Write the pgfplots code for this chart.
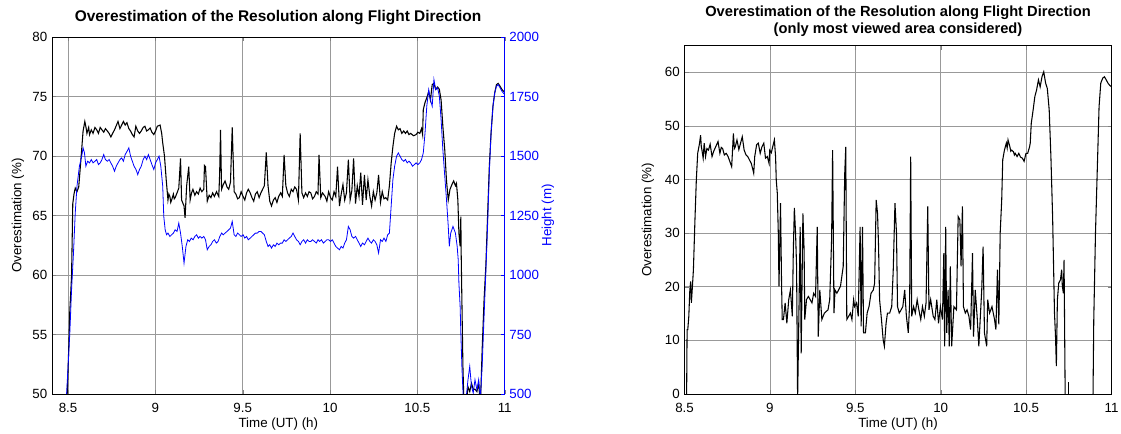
\documentclass[border=0pt]{standalone}
\usepackage{fontspec}
\setmainfont{Liberation Sans}
\usepackage{pgfplots}
\pgfplotsset{compat=1.18}

\pgfplotsset{
  mat/.style={
    scale only axis,
    tick align=inside,
    major tick length=3pt,
    grid=major,
    grid style={black!40, line width=0.5pt},
    tick label style={font=\fontsize{10}{12}\selectfont},
    label style={font=\fontsize{10}{12}\selectfont},
    /pgf/number format/assume math mode=true,
    /pgf/number format/1000 sep={},
    scaled ticks=false,
    xtick={8.5,9,9.5,10,10.5,11},
    xticklabel style={yshift=-3.5pt},
    axis line style={line width=0.6pt},
    unbounded coords=jump,
  }
}

\begin{document}
\begin{tikzpicture}
\path[use as bounding box] (0,0) rectangle (840.75pt,325.5pt);

% left: overestimation and flight height
\begin{axis}[mat,
  at={(39pt,30pt)}, anchor=south west,
  width=339.5pt, height=267.75pt,
  xmin=8.408, xmax=11, ymin=50, ymax=80,
  ytick={50,55,...,80},
  axis x line=box, axis y line*=left,
  xlabel={Time (UT) (h)}, ylabel={Overestimation (\%)},
  xlabel style={at={(axis description cs:0.5,-0.084)}, anchor=center},
  ylabel style={at={(axis description cs:-0.0751,0.5)}, anchor=center},
]
\addplot[black, line width=0.8pt] coordinates {
(8.490,48) (8.500,52) (8.510,57) (8.520,59.9) (8.527,66.0) (8.534,66.8) (8.541,67.3) (8.551,67.0) (8.561,67.4)
(8.572,69.4) (8.586,72.1) (8.596,72.9) (8.604,72.3) (8.608,71.9) (8.612,72.1) (8.618,72.4) (8.623,71.8) (8.633,72.2) (8.643,71.9)
(8.654,72.4) (8.664,72.2) (8.674,71.9) (8.684,72.4) (8.694,72.2) (8.704,72.0) (8.714,72.3) (8.725,72.1) (8.735,71.9) (8.745,71.6) (8.755,71.9) (8.766,72.2) (8.786,72.9) (8.797,72.3)
(8.807,72.6) (8.817,72.9) (8.827,72.6) (8.837,72.8) (8.848,72.3) (8.858,72.1) (8.868,71.8) (8.878,71.6) (8.888,72.5) (8.899,72.1)
(8.909,71.9) (8.919,72.1) (8.930,72.4) (8.940,72.5) (8.950,72.1) (8.960,72.2) (8.970,72.35) (8.980,72.0) (8.991,71.8) (9.001,72.1) (9.011,72.5) (9.027,72.6)
(9.036,71.9) (9.042,71.1) (9.052,70.0) (9.062,68.0) (9.072,66.3) (9.077,66.8) (9.083,66.6) (9.088,66.1) (9.093,66.3) (9.103,66.8)
(9.108,66.4) (9.113,66.5) (9.124,66.9) (9.134,67.3) (9.144,69.8) (9.150,66.3) (9.164,65.8) (9.170,64.8) (9.179,67.5)
(9.191,69.1) (9.199,66.3) (9.207,66.9) (9.215,67.2) (9.226,66.7) (9.236,67.0) (9.246,66.8) (9.256,67.3) (9.266,67.0) (9.277,67.2) (9.281,69.2)
(9.287,69.1) (9.297,66.2) (9.308,66.7) (9.318,66.5) (9.328,66.9) (9.338,66.6) (9.350,67.0) (9.363,66.6) (9.368,68.5) (9.373,72.2) (9.379,67.2) (9.389,67.6) (9.399,67.9)
(9.410,67.4) (9.420,67.2) (9.430,67.8) (9.440,72.4) (9.451,67.0) (9.461,66.8) (9.471,66.4) (9.481,66.5) (9.491,67.0) (9.502,66.6) (9.512,66.3) (9.522,66.9) (9.532,67.2) (9.543,66.9)
(9.553,66.5) (9.563,66.2) (9.573,66.8) (9.583,67.0) (9.594,66.5) (9.604,66.9) (9.614,67.2) (9.624,67.5) (9.635,70.3) (9.645,67.5) (9.655,66.2) (9.665,65.8)
(9.676,66.3) (9.686,66.5) (9.696,66.1) (9.706,66.6) (9.717,66.9) (9.727,66.6) (9.737,70.1) (9.747,67.5) (9.757,66.9) (9.767,66.6) (9.778,67.2) (9.788,67.0) (9.798,67.4) (9.808,67.2)
(9.819,66.3) (9.829,71.9) (9.839,66.9) (9.849,66.5) (9.860,66.9) (9.870,66.6) (9.880,67.0) (9.890,66.9) (9.900,66.4) (9.911,66.6) (9.921,67.0) (9.931,66.8) (9.937,70.1)
(9.947,66.5) (9.957,66.9) (9.972,66.6) (9.982,66.2) (9.992,67.0) (10.003,66.5) (10.013,66.3) (10.023,67.0) (10.033,66.6) (10.043,69.1) (10.054,65.8) (10.064,66.8) (10.074,67.6)
(10.084,66.3) (10.094,66.9) (10.105,69.7) (10.115,66.3) (10.125,67.1) (10.135,69.8) (10.146,66.0) (10.156,67.5) (10.166,66.6) (10.176,68.6) (10.186,65.9)
(10.197,68.4) (10.207,66.3) (10.217,68.0) (10.228,66.6) (10.238,65.8) (10.248,67.0) (10.258,66.3) (10.268,66.9) (10.278,68.4) (10.289,66.1) (10.299,67.0)
(10.309,66.4) (10.319,66.5) (10.330,66.3) (10.340,67.5) (10.350,69.4) (10.360,70.8) (10.370,71.9) (10.381,72.5) (10.391,72.2) (10.401,72.3)
(10.411,71.9) (10.422,72.1) (10.432,71.9) (10.442,72.1) (10.452,71.8) (10.462,71.9) (10.478,71.7) (10.493,71.8) (10.503,72.0) (10.514,71.9) (10.524,72.3) (10.530,71.8) (10.534,73.9)
(10.544,74.5) (10.554,74.9) (10.565,75.4) (10.575,74.7) (10.585,76.0) (10.595,76.1) (10.605,75.6) (10.616,75.8)
(10.626,75.6) (10.636,74.7) (10.646,72.5) (10.657,70.5) (10.667,67.9) (10.677,66.3) (10.687,67.2) (10.698,67.6)
(10.708,67.9) (10.718,67.5) (10.724,67.7) (10.732,66.3) (10.738,63.5) (10.745,62.4) (10.749,64.9) (10.751,61.8)
(10.755,57.9) (10.761,52.3) (10.769,48) (10.779,49) (10.790,50.6) (10.800,50.2) (10.810,50.9) (10.820,50.4)
(10.830,50.4) (10.841,50.2) (10.851,50.9) (10.861,49) (10.871,53.7) (10.882,57.9) (10.892,60.7) (10.902,64.9)
(10.912,69.1) (10.922,71.9) (10.933,74.2) (10.943,75.3) (10.953,76.0) (10.963,76.1) (10.974,75.85) (10.984,75.6)
(11.000,75.35)
};
\end{axis}

\begin{axis}[mat,
  at={(39pt,30pt)}, anchor=south west,
  width=339.5pt, height=267.75pt,
  xmin=8.408, xmax=11, ymin=500, ymax=2000,
  ytick={500,750,...,2000},
  axis x line=none, axis y line*=right, grid=none,
  y axis line style={blue}, ytick style={blue},
  yticklabel style={blue},
  ylabel={Height (m)},
  ylabel style={blue, at={(axis description cs:1.0957,0.5)}, anchor=center},
]
\addplot[blue, line width=0.6pt] coordinates {
(8.490,480) (8.500,616) (8.510,756) (8.520,938) (8.531,1092) (8.541,1260) (8.551,1373) (8.565,1457)
(8.578,1499) (8.586,1534) (8.594,1513) (8.602,1457) (8.612,1478) (8.623,1471) (8.633,1485) (8.643,1471) (8.654,1478) (8.664,1485) (8.674,1464) (8.684,1471)
(8.694,1485) (8.704,1506) (8.714,1485) (8.725,1478) (8.735,1485) (8.745,1471) (8.755,1457) (8.766,1436) (8.776,1457) (8.786,1471) (8.797,1485) (8.807,1492) (8.817,1478) (8.827,1506) (8.838,1520) (8.848,1534)
(8.858,1499) (8.868,1478) (8.878,1457) (8.889,1443) (8.899,1422) (8.909,1443) (8.919,1457) (8.930,1485) (8.940,1499) (8.950,1485) (8.960,1506) (8.970,1485) (8.980,1464) (8.991,1443)
(9.001,1471) (9.011,1485) (9.021,1499) (9.031,1457) (9.042,1373) (9.048,1246) (9.056,1190) (9.064,1169) (9.072,1176) (9.083,1162) (9.093,1169)
(9.103,1176) (9.113,1190) (9.124,1183) (9.134,1218) (9.144,1176) (9.154,1120) (9.164,1050) (9.175,1120) (9.180,1134) (9.185,1148) (9.195,1141) (9.205,1155)
(9.216,1148) (9.226,1162) (9.236,1169) (9.246,1155) (9.256,1162) (9.266,1155) (9.277,1162) (9.287,1148) (9.297,1106) (9.308,1120) (9.318,1127) (9.328,1141) (9.338,1148) (9.349,1134) (9.359,1141) (9.369,1162) (9.379,1176)
(9.389,1169) (9.399,1176) (9.410,1183) (9.420,1190) (9.430,1197) (9.440,1225) (9.451,1169) (9.461,1162) (9.471,1176) (9.481,1169) (9.491,1162) (9.502,1169) (9.512,1155) (9.522,1162) (9.532,1148) (9.543,1155) (9.553,1162) (9.563,1169)
(9.573,1176) (9.583,1176) (9.594,1183) (9.604,1183) (9.614,1176) (9.624,1169) (9.635,1141) (9.645,1120) (9.655,1127) (9.665,1113) (9.676,1127) (9.686,1120) (9.696,1134) (9.706,1127) (9.717,1134) (9.727,1134)
(9.737,1148) (9.747,1141) (9.757,1148) (9.767,1155) (9.778,1162) (9.788,1176) (9.798,1162) (9.808,1148) (9.819,1141) (9.829,1127) (9.839,1141) (9.849,1148) (9.860,1134) (9.870,1148)
(9.880,1141) (9.890,1141) (9.900,1148) (9.911,1141) (9.921,1134) (9.931,1148) (9.941,1141) (9.951,1148) (9.962,1134) (9.972,1141) (9.982,1148) (9.992,1148) (10.003,1141) (10.013,1148) (10.023,1134) (10.033,1120)
(10.043,1113) (10.054,1106) (10.064,1120) (10.074,1113) (10.084,1134) (10.094,1148) (10.105,1204) (10.115,1190) (10.125,1162) (10.135,1155) (10.146,1162) (10.156,1148)
(10.166,1134) (10.176,1120) (10.186,1134) (10.197,1127) (10.207,1141) (10.217,1155) (10.228,1141) (10.238,1134) (10.248,1148) (10.258,1141) (10.268,1127) (10.278,1092) (10.289,1148) (10.299,1141) (10.309,1155)
(10.320,1141) (10.330,1169) (10.340,1176) (10.350,1289) (10.360,1401) (10.370,1457) (10.381,1499) (10.391,1513) (10.401,1499)
(10.411,1485) (10.422,1478) (10.432,1485) (10.442,1471) (10.452,1478) (10.462,1471) (10.472,1457) (10.483,1464) (10.493,1471) (10.503,1464) (10.514,1471) (10.524,1485) (10.534,1513) (10.544,1597)
(10.554,1709) (10.565,1779) (10.575,1737) (10.585,1709) (10.595,1821) (10.605,1779) (10.616,1786) (10.626,1751)
(10.636,1653) (10.646,1527) (10.657,1415) (10.667,1316) (10.677,1204) (10.683,1120) (10.691,1176) (10.704,1204)
(10.718,1176) (10.728,1120) (10.734,1064) (10.738,966) (10.745,868) (10.749,756) (10.755,616) (10.763,480)
(10.779,480) (10.790,560) (10.800,616) (10.810,532) (10.820,504) (10.830,560) (10.841,518) (10.851,560)
(10.861,480) (10.871,616) (10.882,826) (10.892,1008) (10.902,1204) (10.912,1429) (10.922,1597) (10.933,1709)
(10.943,1765) (10.953,1793) (10.963,1800) (10.974,1786) (10.984,1772) (11.000,1758)
};
\end{axis}

% right: most viewed area only
\begin{axis}[mat,
  at={(513.4pt,30pt)}, anchor=south west,
  width=320.25pt, height=261.3pt,
  xmin=8.5, xmax=11, ymin=0, ymax=65,
  ytick={0,10,...,60},
  xlabel={Time (UT) (h)}, ylabel={Overestimation (\%)},
  xlabel style={at={(axis description cs:0.5,-0.0861)}, anchor=center},
  ylabel style={at={(axis description cs:-0.0855,0.5)}, anchor=center},
]
\addplot[black, line width=0.8pt] coordinates {
(8.512,-1) (8.515,12) (8.519,12.0) (8.525,14.5) (8.531,19.4) (8.536,21.0) (8.540,17.0) (8.546,20.0)
(8.552,23.2) (8.561,32.5) (8.569,39.9) (8.577,44.9) (8.588,46.8) (8.594,48.3) (8.598,46.2) (8.602,45.5) (8.609,44.0) (8.615,46.8)
(8.623,44.3) (8.631,45.8) (8.640,45.5) (8.650,46.6) (8.661,44.3) (8.671,45.3) (8.682,46.1) (8.696,47.1) (8.707,44.9) (8.715,46.0) (8.723,45.8) (8.733,44.6) (8.744,44.9)
(8.755,44.3) (8.776,42.4) (8.786,48.6) (8.792,45.8) (8.797,46.1) (8.807,47.4) (8.818,45.6) (8.828,46.8) (8.838,48.0) (8.849,45.5)
(8.860,44.6) (8.870,44.3) (8.891,43.0) (8.905,41.2) (8.911,44.3) (8.922,46.5) (8.932,46.8) (8.943,44.9) (8.953,46.1)
(8.964,46.8) (8.974,44.0) (8.985,44.3) (8.995,43.0) (8.999,45.5) (9.008,45.0) (9.016,46.1) (9.026,47.4) (9.033,44.3)
(9.037,39.9) (9.043,37.5) (9.049,30.0) (9.053,20.1) (9.062,35.6) (9.068,20.7) (9.072,13.9) (9.079,13.9)
(9.089,17.0) (9.099,13.2) (9.110,17.6) (9.120,19.4) (9.131,14.5) (9.137,26.9) (9.143,34.7) (9.150,30.0)
(9.156,23.8) (9.162,-1) (9.168,11.4) (9.177,31.2) (9.183,7.6) (9.193,33.7) (9.200,26.9) (9.204,13.9)
(9.214,17.6) (9.225,18.2) (9.246,17.0) (9.256,18.8) (9.267,18.2) (9.277,31.2) (9.283,10.7) (9.292,19.4)
(9.304,13.9) (9.319,15.1) (9.340,15.7) (9.350,17.6) (9.361,28.8) (9.367,45.5) (9.375,15.1) (9.381,19.4)
(9.392,18.8) (9.413,20.1) (9.429,23.8) (9.438,41.2) (9.444,46.1) (9.450,13.9) (9.461,14.5) (9.471,15.1)
(9.480,13.9) (9.490,17.6) (9.496,16.3) (9.507,17.0) (9.517,14.5) (9.528,31.2) (9.534,12.6) (9.542,31.2)
(9.548,11.4) (9.559,11.4) (9.569,15.1) (9.580,16.3) (9.592,18.8) (9.605,19.4) (9.613,20.7) (9.622,36.2)
(9.630,33.7) (9.636,27.5) (9.642,17.6) (9.653,13.9) (9.663,10.1) (9.670,8.9) (9.680,13.2) (9.688,15.1)
(9.701,15.1) (9.713,16.3) (9.722,23.2) (9.732,35.6) (9.741,30.0) (9.747,16.3) (9.757,15.1) (9.768,15.7)
(9.778,16.3) (9.789,19.4) (9.799,14.5) (9.810,11.4) (9.818,17.0) (9.824,44.3) (9.830,14.5) (9.841,16.3)
(9.851,15.1) (9.862,17.6) (9.872,15.7) (9.883,13.9) (9.893,16.3) (9.904,14.5) (9.914,17.0) (9.924,35.0)
(9.931,15.7) (9.941,17.6) (9.956,14.5) (9.966,13.9) (9.977,17.6) (9.987,13.2) (9.998,16.3) (10.010,13.9)
(10.018,26.3) (10.023,8.9) (10.029,31.2) (10.035,11.4) (10.043,19.4) (10.050,8.9) (10.056,23.8) (10.064,8.9)
(10.077,16.3) (10.092,15.7) (10.102,33.1) (10.112,32.5) (10.119,23.8) (10.127,35.0) (10.133,16.3) (10.144,15.1)
(10.154,15.7) (10.165,14.5) (10.175,12.0) (10.186,26.3) (10.192,10.7) (10.202,19.4) (10.213,14.5) (10.223,8.9)
(10.231,13.9) (10.240,19.4) (10.248,27.5) (10.256,11.4) (10.269,8.9) (10.275,17.6) (10.286,15.1) (10.300,16.3)
(10.315,13.9) (10.323,12.0) (10.332,23.2) (10.340,13.0) (10.344,20.7) (10.348,30.0) (10.357,36.2) (10.363,43.7)
(10.373,45.5) (10.384,46.8) (10.389,45.9) (10.394,47.4) (10.405,46.1) (10.410,45.3) (10.415,45.5) (10.426,45.2) (10.431,44.6) (10.436,44.9) (10.447,44.3)
(10.457,44.9) (10.467,44.2) (10.478,44.0) (10.488,43.4) (10.499,44.9) (10.509,44.9) (10.520,46.1) (10.524,46.8) (10.530,50.5)
(10.541,53.0) (10.551,55.5) (10.561,56.7) (10.572,58.6) (10.582,57.3) (10.593,59.2) (10.603,60.1) (10.614,58.0)
(10.624,57.0) (10.635,53.0) (10.645,44.3) (10.655,33.1) (10.666,15.1) (10.672,10.7) (10.677,5.2) (10.683,17.6)
(10.691,20.7) (10.701,21.3) (10.708,23.2) (10.712,20.1) (10.718,18.8) (10.722,25.0) (10.729,-2) (10.735,nan)
(10.889,nan) (10.891,-2) (10.896,13.9) (10.906,30.0) (10.917,42.4) (10.927,53.6) (10.937,58.0) (10.948,58.9)
(10.958,59.2) (10.969,58.6) (10.979,58.0) (10.989,57.6) (11.000,57.3)
};
\addplot[black, line width=0.8pt] coordinates {(10.749,-1) (10.749,2.2)};
\end{axis}

\node[font=\bfseries\fontsize{11.6}{13}\selectfont] at (208.5pt,312pt)
  {Overestimation of the Resolution along Flight Direction};
\node[font=\bfseries\fontsize{11}{12.75}\selectfont, align=center] at (673.5pt,309.4pt)
  {Overestimation of the Resolution along Flight Direction\\(only most viewed area considered)};
\end{tikzpicture}
\end{document}
